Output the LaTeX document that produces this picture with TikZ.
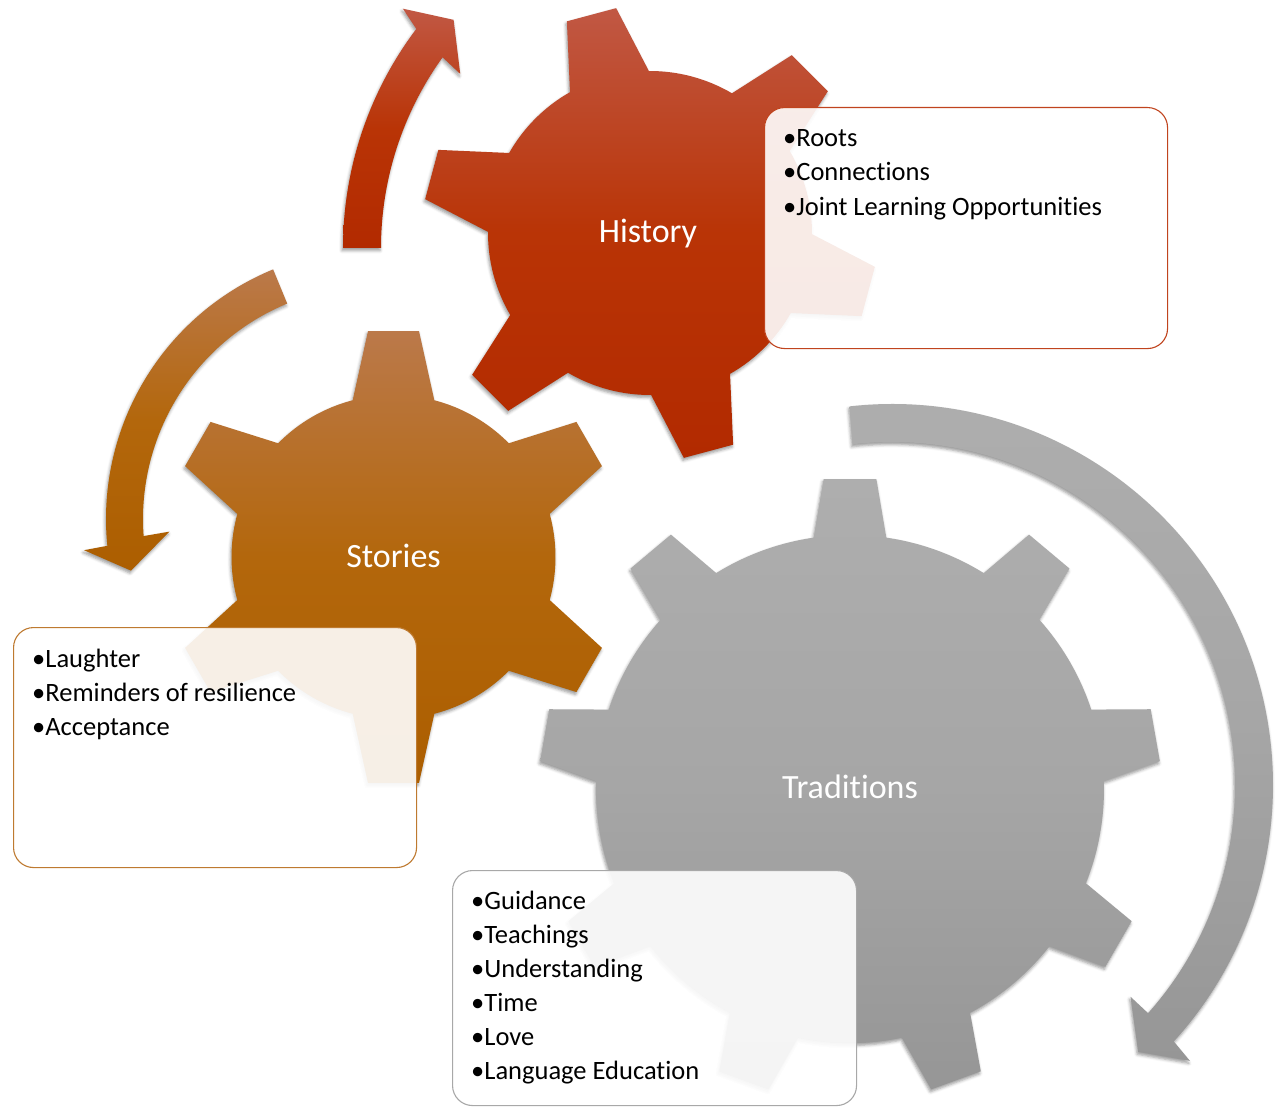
\documentclass[tikz,border=0pt]{standalone}
\usepackage{fontspec}
\setmainfont{Carlito}[Ligatures=NoCommon]
\usetikzlibrary{shadows.blur}
\definecolor{histtop}{RGB}{193,88,68}
\definecolor{histmid}{RGB}{185,52,6}
\definecolor{histbot}{RGB}{178,42,0}
\definecolor{stortop}{RGB}{187,121,74}
\definecolor{stormid}{RGB}{179,103,12}
\definecolor{storbot}{RGB}{172,94,0}
\definecolor{tradtop}{RGB}{174,174,174}
\definecolor{tradmid}{RGB}{166,166,166}
\definecolor{tradbot}{RGB}{150,150,150}
\definecolor{histline}{RGB}{192,68,30}
\definecolor{storline}{RGB}{190,122,48}
\definecolor{tradline}{RGB}{168,168,168}
\begin{document}
\begin{tikzpicture}[x=1pt,y=-1pt,
  softshadow/.style={blur shadow={shadow xshift=-1pt,shadow yshift=-2.5pt,shadow blur radius=3pt,shadow opacity=40}},
  redfill/.style={softshadow,top color=histtop,bottom color=histbot,middle color=histmid},
  orangefill/.style={softshadow,top color=stortop,bottom color=storbot,middle color=stormid},
  grayfill/.style={softshadow,top color=tradtop,bottom color=tradbot,middle color=tradmid},
  textbox/.style={rounded corners=20pt,fill=white,fill opacity=0.9,line width=1.1pt,inner sep=0pt,anchor=north west},
  gearlabel/.style={text=white,font=\fontsize{34}{40}\selectfont,anchor=base,inner sep=0pt},
  item/.style={font=\fontsize{26.5}{32}\selectfont,anchor=base west,inner sep=0pt}
]
\useasboundingbox (0,0) rectangle (1287,1107);

% ---------- arrows ----------
\begin{scope}[shift={(707,248)}]
\path[redfill] (180:364) arc[start angle=180,end angle=217,radius=364]
  -- (218.2:387) -- (222:341) -- (215.2:302) -- (215.8:326)
  arc[start angle=215.8,end angle=180,radius=326] -- cycle;
\end{scope}
\begin{scope}[shift={(376,519)}]
\path[orangefill] (247.6:270) arc[start angle=247.6,end angle=174.3,radius=270]
  -- (173.9:293.6) -- (168.1:250.4) -- (176.5:207) -- (175.8:233)
  arc[start angle=175.8,end angle=247.6,radius=233] -- cycle;
\end{scope}
\begin{scope}[shift={(892,785)}]
\path[grayfill] (-96.4:381) arc[start angle=-96.4,end angle=42.3,radius=381]
  -- (42.8:406) -- (47.3:363) -- (41.6:319) -- (41.7:343)
  arc[start angle=41.7,end angle=-96.6,radius=343] -- cycle;
\end{scope}

% ---------- gears ----------
\begin{scope}[shift={(650,233)}]
\path[redfill] ({15-14.6}:162)
  \foreach \k [evaluate=\k as \a using 15+\k*60] in {0,...,5} {
    -- ({\a-6.44}:227.4) -- ({\a+6.44}:227.4) -- ({\a+14.6}:162)
    arc[start angle={\a+14.6},end angle={\a+60-14.6},radius=162] } -- cycle;
\end{scope}
\begin{scope}[shift={(393.5,557)}]
\path[orangefill] ({30-14.6}:162)
  \foreach \k [evaluate=\k as \a using 30+\k*60] in {0,...,5} {
    -- ({\a-6.44}:227.4) -- ({\a+6.44}:227.4) -- ({\a+14.6}:162)
    arc[start angle={\a+14.6},end angle={\a+60-14.6},radius=162] } -- cycle;
\end{scope}
\begin{scope}[shift={(850,789)}]
\path[grayfill] ({30-8.22}:254)
  \foreach \k [evaluate=\k as \a using 30+\k*40] in {0,...,8} {
    -- ({\a-4.86}:311.1) -- ({\a+4.86}:311.1) -- ({\a+8.22}:254)
    arc[start angle={\a+8.22},end angle={\a+40-8.22},radius=254] } -- cycle;
\end{scope}

\node[gearlabel] (history) at (648,243) {History};
\node[gearlabel] (stories) at (393.5,567) {Stories};
\node[gearlabel] (traditions) at (850,798) {Traditions};

% ---------- text boxes ----------
\node[textbox,draw=histline,minimum width=403pt,minimum height=241pt] (hbox) at (764,107) {};
\node[textbox,draw=storline,minimum width=403pt,minimum height=240pt] (sbox) at (13,627) {};
\node[textbox,draw=tradline,minimum width=404pt,minimum height=235pt] (tbox) at (452,870) {};

\node[item] (h1) at (783,146.5) {•Roots};
\node[item] (h2) at (783,181) {•Connections};
\node[item] (h3) at (783,215.5) {•Joint Learning Opportunities};

\node[item] (s1) at (32,667) {•Laughter};
\node[item] (s2) at (32,701) {•Reminders of resilience};
\node[item] (s3) at (32,735) {•Acceptance};

\node[item] (t1) at (471,909) {•Guidance};
\node[item] (t2) at (471,943.5) {•Teachings};
\node[item] (t3) at (471,977.5) {•Understanding};
\node[item] (t4) at (471,1011.5) {•Time};
\node[item] (t5) at (471,1045.5) {•Love};
\node[item] (t6) at (471,1079.5) {•Language Education};
\end{tikzpicture}
\end{document}
